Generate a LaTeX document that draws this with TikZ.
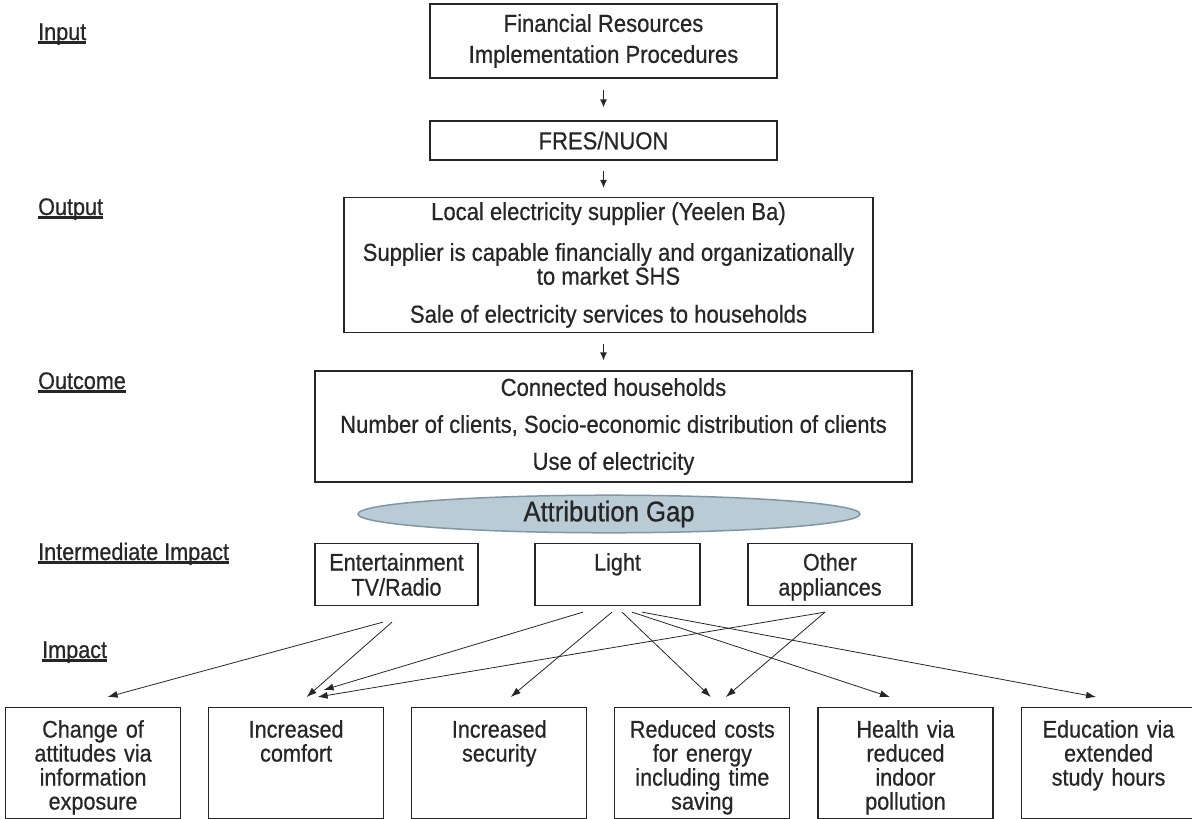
\documentclass[tikz,border=0pt]{standalone}
\usepackage{fontspec}
\setmainfont{Liberation Sans}[FakeStretch=0.9,FakeBold=0.6]
\usepackage{xcolor}
\usetikzlibrary{arrows.meta,positioning,shapes.geometric}

\definecolor{inkgray}{HTML}{262626}
\definecolor{gapfill}{HTML}{B9CCD6}
\definecolor{gapline}{HTML}{8096A4}

\newcommand{\ulabel}[1]{\setbox0\hbox{#1}\rlap{\rule[-3.5pt]{\wd0}{2.2pt}}\box0}

\begin{document}
\begin{tikzpicture}[x=1pt,y=-1pt,>={Latex[length=10pt,width=7pt]},
  every node/.style={text=inkgray},
  font=\fontsize{24.5}{22}\selectfont]
	  \tikzset{block/.style={draw=inkgray, line width=1.1pt, align=center, inner sep=0pt},
	  	tagline/.style={anchor=base west, inner sep=0pt, font=\fontsize{24}{24}\selectfont},
	  	midblock/.style={draw=inkgray, line width=1.1pt, align=center, text width=#1,
	  		inner xsep=0pt, inner ysep=0pt, text height=27pt, text depth=35pt,
	  		font=\fontsize{24}{25}\selectfont},
	  	impact/.style={draw=inkgray, line width=1.1pt, align=center, text width=169pt,
	  		inner xsep=3pt, inner ysep=0pt, text height=30pt, text depth=81pt,
	  		font=\fontsize{24}{24}\selectfont},
	  	gapshape/.style={ % requires library shapes.geometric
	  		ellipse,
	  		draw=gapline,
	  		fill=gapfill,
	  		line width=1.5pt,
	  		minimum width=502pt,
	  		minimum height=34pt,
	  		inner sep=0pt,
	  		font=\fontsize{28.5}{29}\selectfont
	  	},
	  	link/.style={inkgray, line width=0.8pt},
	  	downlink/.style={inkgray, line width=1.3pt, -{Latex[length=8pt,width=7pt]}},
	  }
	  \useasboundingbox (0,0) rectangle (1192,819);

	  %% level labels
	  \node [tagline] (lin)   at (38,40)  {\ulabel{Input}};
	  \node [tagline] (lout)  at (38,215) {\ulabel{Output}};
	  \node [tagline] (lcome) at (38,389) {\ulabel{Outcome}};
	  \node [tagline] (lmid)  at (38,560) {\ulabel{Intermediate Impact}};
	  \node [tagline] (limp)  at (42,658) {\ulabel{Impact}};

	  %% main chain
	  \node [block, minimum width=347pt, minimum height=74pt] (input) at (603.5,41)
	  	{Financial Resources\\[9pt]Implementation Procedures};
	  \node [block, minimum width=347pt, minimum height=39pt] (fres) at (603.5,140.5) {FRES/NUON};
	  \node [block, minimum width=529pt, minimum height=135pt] (output) at (608.5,265)
	  	{Local electricity supplier (Yeelen Ba)\\[17pt]Supplier is capable financially and organizationally\\to market SHS\\[16pt]Sale of electricity services to households};
	  \node [block, minimum width=597pt, minimum height=111pt] (outcome) at (613.5,426.5)
	  	{Connected households\\[15pt]Number of clients, Socio-economic distribution of clients\\[15pt]Use of electricity};
	  \node [gapshape] (attr) at (609,514) {Attribution Gap};

	  %% intermediate impact
	  \node [midblock=163pt, anchor=north] (ent)   at (396.5,543) {Entertainment\\TV/Radio};
	  \node [midblock=165pt, anchor=north] (light) at (617.5,543) {Light};
	  \node [midblock=164pt, anchor=north] (appl)  at (830,543)   {Other\\appliances};

	  %% impact
	  \node [impact, anchor=north west] (chg) at (5,707) {Change of\\attitudes via\\information\\exposure};
	  \node [impact, right=27pt of chg]  (cmf)  {Increased\\comfort};
	  \node [impact, right=27pt of cmf]  (sec)  {Increased\\security};
	  \node [impact, right=27pt of sec]  (cost) {Reduced costs\\for energy\\including time\\saving};
	  \node [impact, right=27pt of cost] (hlth) {Health via\\reduced\\indoor\\pollution};
	  \node [impact, right=27pt of hlth] (edu)  {Education via\\extended\\study hours};

	  %% paths
	  \path[downlink] ([yshift=-11pt]input.south) edge ([yshift=13pt]fres.north)
	  ([yshift=-10pt]fres.south) edge ([yshift=9pt]output.north -| fres)
	  ([yshift=-11pt]output.south -| fres) edge ([yshift=10pt]outcome.north -| fres)
	  ;
	  \path[link,->] ([xshift=-13.5pt,yshift=-16pt]ent.south) edge ([xshift=14.5pt,yshift=10pt]chg.north)
	  ([xshift=-4.5pt,yshift=-16pt]ent.south) edge ([xshift=10.5pt,yshift=10pt]cmf.north)
	  ([xshift=-34.5pt,yshift=-6pt]light.south) edge ([xshift=27.5pt,yshift=17pt]cmf.north)
	  ([xshift=-5.5pt,yshift=-6pt]light.south) edge ([xshift=11.5pt,yshift=10pt]sec.north)
	  ([xshift=4.5pt,yshift=-6pt]light.south) edge ([xshift=8.5pt,yshift=10pt]cost.north)
	  ([xshift=14.5pt,yshift=-6pt]light.south) edge ([xshift=-15.5pt,yshift=10pt]hlth.north)
	  ([xshift=24.5pt,yshift=-6pt]light.south) edge ([xshift=-12.5pt,yshift=10pt]edu.north)
	  ([xshift=-5pt,yshift=-6pt]appl.south) edge ([xshift=21.5pt,yshift=10pt]cmf.north)
	  ([xshift=-5pt,yshift=-6pt]appl.south) edge ([xshift=23.5pt,yshift=10pt]cost.north)
	  ;
\end{tikzpicture}
\end{document}
